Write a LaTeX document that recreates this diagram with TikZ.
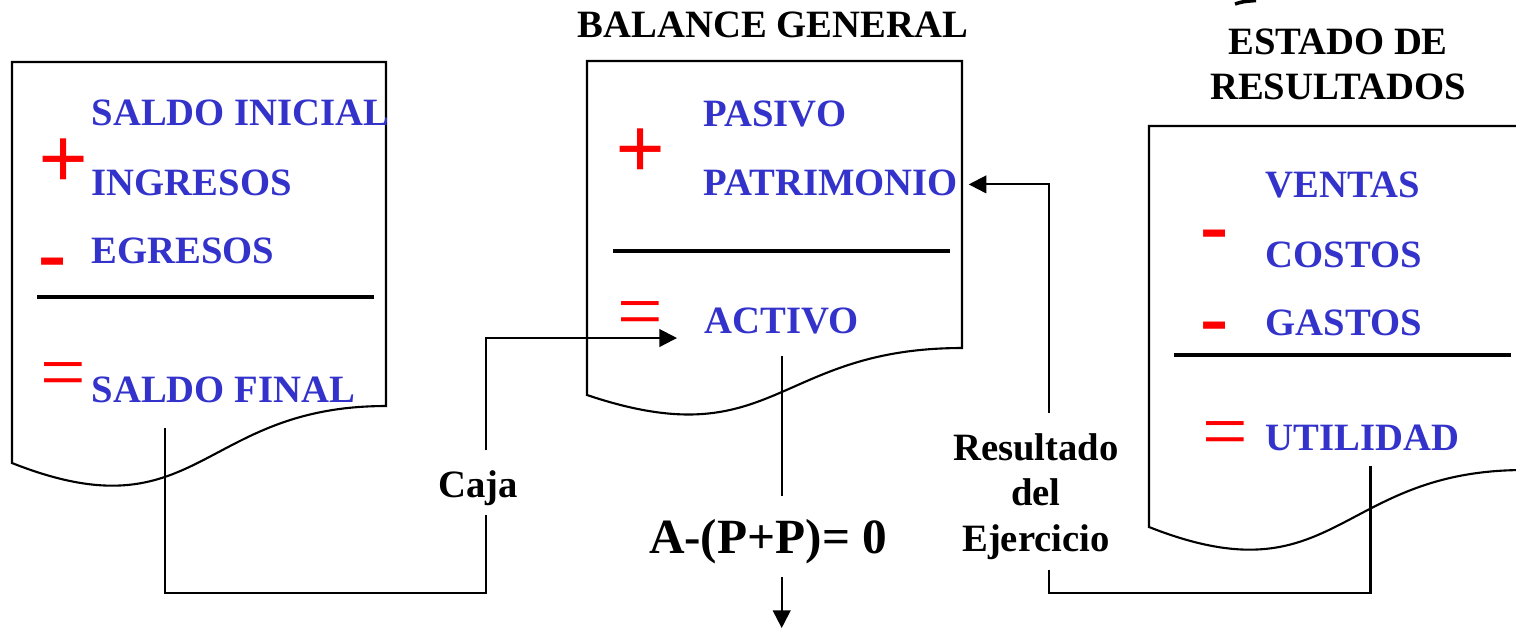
\documentclass[tikz,border=0pt]{standalone}
\usepackage{fontspec}
\setmainfont{Liberation Serif}
\usetikzlibrary{calc,arrows.meta}
\definecolor{azul}{RGB}{51,51,204}
\definecolor{rojo}{RGB}{255,0,0}
\tikzset{>={Triangle[length=5pt,width=5pt]}}
\tikzset{
  concepto/.style={azul,anchor=base west,inner sep=0pt,font=\fontsize{11}{13}\selectfont\bfseries},
  signo/.style={rojo,anchor=base west,inner sep=0pt,font=\fontsize{25}{27}\selectfont\bfseries},
  igual/.style={rojo,anchor=base west,inner sep=0pt,font=\fontsize{23}{26}\selectfont},
  resta/.style={rojo,anchor=base west,inner sep=0pt,font=\fontsize{24}{26}\selectfont\bfseries},
  titulo/.style={inner sep=0pt,align=center,font=\fontsize{11}{12.8}\selectfont\bfseries},
  hoja/.style={line width=0.6pt},
  linea/.style={line width=0.6pt},
  separa/.style={line width=1.4pt},
}

\begin{document}
\begin{tikzpicture}[x=0.01cm,y=-0.01cm]
  \fill[white] (0,0) rectangle (1516,629);
  \useasboundingbox (0,0) rectangle (1516,629);
  \clip (0,0) rectangle (1516,629);
  % hojas
  \draw[hoja] (12,62) -- (386,62) -- (386,406) .. controls (199,406) and (199,537) .. (12,463) -- cycle;
  \draw[hoja] (587,61) -- (962,61) -- (962,348) .. controls (774.5,348) and (774.5,458) .. (587,395) -- cycle;
  \draw[hoja] (1149,126) -- (1524,126) -- (1524,470) .. controls (1336.5,470) and (1336.5,601) .. (1149,527) -- cycle;
  \draw[linea,line width=1pt] (1235,4) .. controls (1243,1.5) .. (1256,0.5);
  % titulos
  \node[titulo,anchor=base] at (773,37) (bg) {BALANCE GENERAL};
  \node[titulo] at (1338,64) (er) {ESTADO DE\\RESULTADOS};
  % flujo de caja
  \node[concepto] at (91,125) (si) {SALDO INICIAL};
  \node[concepto] at (91,195) (ing) {INGRESOS};
  \node[concepto] at (91,263) (egr) {EGRESOS};
  \node[concepto] at (91,402) (sf) {SALDO FINAL};
  \node[signo] at (38,188) (mas1) {+};
  \node[resta] at (38,281) (men1) {-};
  \node[igual] at (40,399) (igu1) {=};
  \draw[separa] (37,297) -- (374,297);
  % balance
  \node[concepto] at (703,126) (pasivo) {PASIVO};
  \node[concepto] at (703,195) (patrimonio) {PATRIMONIO};
  \node[concepto] at (704,333) (activo) {ACTIVO};
  \node[signo] at (615,178) (mas2) {+};
  \node[igual] at (617,338) (igu2) {=};
  \draw[separa] (613,251) -- (950,251);
  % resultados
  \node[concepto] at (1265,197) (ventas) {VENTAS};
  \node[concepto] at (1265,267) (costos) {COSTOS};
  \node[concepto] at (1265,335) (gastos) {GASTOS};
  \node[concepto] at (1265,450) (utilidad) {UTILIDAD};
  \node[resta] at (1200,253) (men2) {-};
  \node[resta] at (1200,345) (men3) {-};
  \node[igual] at (1202,458) (igu3) {=};
  \draw[separa] (1174,355) -- (1511,355);
  % etiquetas
  \node[titulo,anchor=base] at (478,497) (caja) {Caja};
  \node[titulo,anchor=base,font=\fontsize{14}{16}\selectfont\bfseries] at (768,553) (eq) {A-(P+P)= 0};
  \node[titulo,font=\fontsize{11}{12.9}\selectfont\bfseries] at (1036,496.5) (res) {Resultado\\del\\Ejercicio};
  \coordinate (cj) at (486,593);
  \coordinate (rj) at (1049,593);
  \coordinate (fin) at (780,628);
  % conectores
  \draw[linea] ($(sf.base west)+(74,26)$) |- (cj) -- ($(cj |- caja.south)+(0,9)$);
  \draw[linea,->] ($(cj |- caja.north)+(0,-19)$) |- ($(activo.base west)+(-27,5)$);
  \draw[linea] ($(activo.south)+(0,22)$) -- ($(activo.south |- eq.north)+(0,-22)$);
  \draw[linea,->] ($(activo.south |- eq.south)+(0,13)$) -- (activo.south |- fin);
  \draw[linea] ($(utilidad.south)+(8,15)$) |- (rj) -- ($(rj |- res.south)+(0,10)$);
  \draw[linea,->] ($(rj |- res.north)+(0,-20)$) |- ($(patrimonio.east)+(10,2)$);
\end{tikzpicture}
\end{document}
